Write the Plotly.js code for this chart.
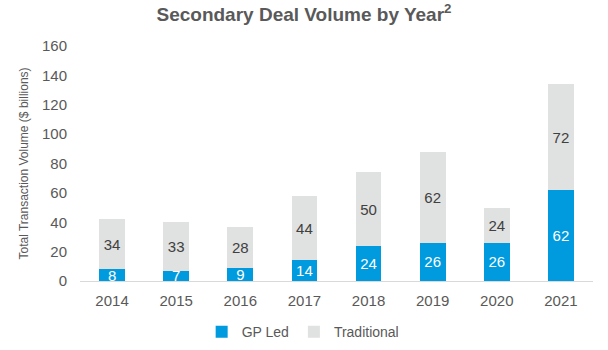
<!DOCTYPE html>
<html><head><meta charset="utf-8">
<script src="https://cdn.plot.ly/plotly-3.0.1.min.js"></script>
<style>html,body{margin:0;padding:0;background:#fff}#c{width:608px;height:350px}</style>
</head><body><div id="c"></div>
<script>
const years = ['2014','2015','2016','2017','2018','2019','2020','2021'];
const gpLed = [8,7,9,14,24,26,26,62];
const traditional = [34,33,28,44,50,62,24,72];
const yTicks = [0,20,40,60,80,100,120,140,160];

const font = 'Liberation Sans, Arial, sans-serif';
const traces = [
  {type:'bar', name:'GP Led', x:years, y:gpLed, text:gpLed.map(String), textposition:'inside',
   insidetextanchor:'middle', textangle:0, constraintext:'none', textfont:{color:'#ffffff', size:15, family:font},
   marker:{color:'#009ADE'}, hoverinfo:'skip'},
  {type:'bar', name:'Traditional', x:years, y:traditional, text:traditional.map(String), textposition:'inside',
   insidetextanchor:'middle', textangle:0, constraintext:'none', textfont:{color:'#404040', size:15, family:font},
   marker:{color:'#E0E1E1'}, hoverinfo:'skip'}
];
const layout = {
  width:608, height:350, barmode:'stack', bargap:0.6,
  margin:{l:80, r:15, t:46, b:69, autoexpand:false},
  paper_bgcolor:'#fff', plot_bgcolor:'#fff',
  font:{family:font, color:'#595959'},
  uniformtext:{mode:'show', minsize:15},
  title:{text:'<b>Secondary Deal Volume by Year<sup>2</sup></b>', x:0.5, xanchor:'center', y:0.96, yanchor:'middle',
         font:{size:19, color:'#595959', family:font}},
  xaxis:{type:'category', showline:true, linecolor:'#D9D9D9', linewidth:1, ticks:'', tickfont:{size:15, color:'#595959'},
         showgrid:false, zeroline:false, automargin:false, ticklabelstandoff:6},
  yaxis:{range:[0,160], tickvals:yTicks, ticktext:yTicks.map(String), showgrid:false, zeroline:false, showline:false,
         tickfont:{size:15, color:'#595959'}, ticklen:0, ticks:'', automargin:false, ticklabelstandoff:12,
         title:{text:'Total Transaction Volume ($ billions)', font:{size:12, color:'#595959'}, standoff:10}},
  legend:{orientation:'h', x:0.435, xanchor:'center', y:-0.15, yanchor:'top', font:{size:14, color:'#595959'},
          traceorder:'normal', itemwidth:30},
  showlegend:true
};
Plotly.newPlot('c', traces, layout, {staticPlot:true, displayModeBar:false});
</script></body></html>
